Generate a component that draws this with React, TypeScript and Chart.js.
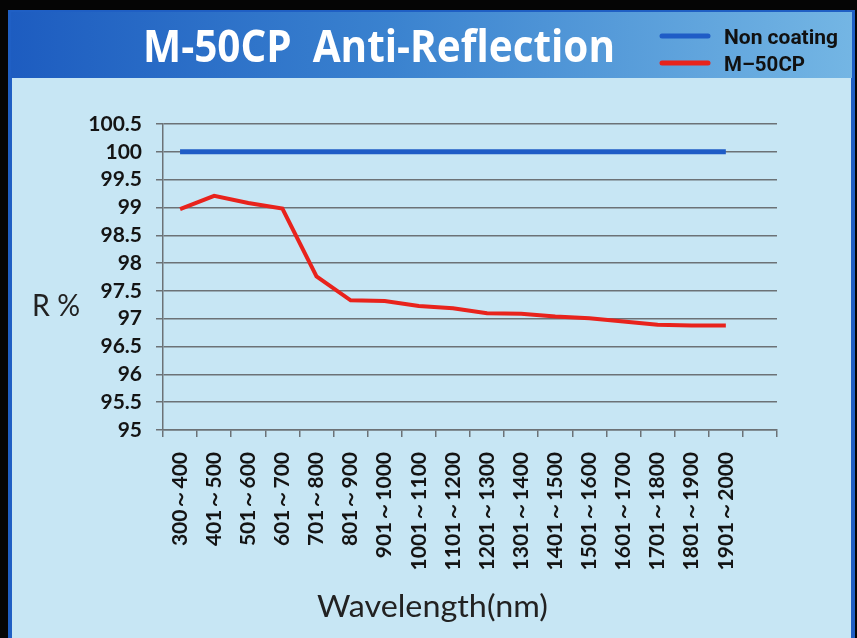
import { useEffect, useRef } from 'react';
import { Chart, registerables } from 'chart.js';

Chart.register(...registerables);

const chartTitle = 'M-50CP  Anti-Reflection';
const yTitle = 'R %';
const xTitle = 'Wavelength(nm)';
const seriesNames = ['Non coating', 'M–50CP'];

const categories = [
  '300～400', '401～500', '501～600', '601～700', '701～800', '801～900',
  '901～1000', '1001～1100', '1101～1200', '1201～1300', '1301～1400',
  '1401～1500', '1501～1600', '1601～1700', '1701～1800', '1801～1900',
  '1901～2000', '',
];

const nonCoating = [100, 100, 100, 100, 100, 100, 100, 100, 100, 100, 100, 100, 100, 100, 100, 100, 100];
const m50cp = [98.97, 99.21, 99.08, 98.98, 97.76, 97.33, 97.32, 97.23, 97.19, 97.1, 97.09, 97.04, 97.01, 96.95, 96.89, 96.88, 96.88];

const yMin = 95;
const yMax = 100.5;
const yStep = 0.5;

const W = 857;
const H = 638;

function fitText(
  ctx: CanvasRenderingContext2D,
  text: string,
  x: number,
  baseline: number,
  width: number,
  font: string,
  color: string,
) {
  ctx.save();
  ctx.font = font;
  ctx.fillStyle = color;
  ctx.textAlign = 'left';
  ctx.textBaseline = 'alphabetic';
  const w = ctx.measureText(text).width;
  const s = width / w;
  ctx.translate(x, baseline);
  ctx.scale(s, 1);
  ctx.fillText(text, 0, 0);
  ctx.restore();
}

const decorPlugin = {
  id: 'decor',
  beforeDraw(chart: any) {
    const ctx = chart.ctx as CanvasRenderingContext2D;
    ctx.save();
    ctx.fillStyle = '#050505';
    ctx.fillRect(0, 0, W, H);
    ctx.fillStyle = '#1f5fc4';
    ctx.fillRect(8, 10, 847, H - 10);
    const g = ctx.createLinearGradient(8, 0, 855, 0);
    g.addColorStop(0, '#1d5cc0');
    g.addColorStop(0.45, '#3a82cf');
    g.addColorStop(1, '#74b6e4');
    ctx.fillStyle = g;
    ctx.fillRect(11, 12, 841, 66);
    ctx.fillStyle = '#c7e6f4';
    ctx.fillRect(12, 78, 839, H - 78);
    ctx.restore();
  },
  afterDraw(chart: any) {
    const ctx = chart.ctx as CanvasRenderingContext2D;
    fitText(ctx, chartTitle, 143, 62, 472, "bold 44px 'Open Sans'", '#ffffff');
    const ds = chart.data.datasets;
    const rows = [36, 63];
    ds.forEach((d: any, i: number) => {
      ctx.save();
      ctx.strokeStyle = d.borderColor;
      ctx.lineWidth = 5;
      ctx.lineCap = 'round';
      ctx.beginPath();
      ctx.moveTo(662, rows[i]);
      ctx.lineTo(708, rows[i]);
      ctx.stroke();
      ctx.restore();
    });
    fitText(ctx, ds[0].label, 724, rows[0] + 8, 114, "bold 20px 'Liberation Sans Narrow', 'Roboto'", '#111111');
    fitText(ctx, ds[1].label, 724, rows[1] + 8, 81, "bold 20px 'Liberation Sans Narrow', 'Roboto'", '#111111');
    fitText(ctx, yTitle, 32, 316, 48, "30px Lato", '#222222');
    fitText(ctx, xTitle, 317, 617, 231, "30px Lato", '#222222');
  },
};

export default function App() {
  const ref = useRef<HTMLCanvasElement>(null);
  useEffect(() => {
    const gridColor = '#6c7276';
    const chart = new Chart(ref.current!, {
      type: 'line',
      data: {
        labels: categories,
        datasets: [
          {
            label: seriesNames[0],
            data: nonCoating,
            borderColor: '#1f5cc6',
            backgroundColor: '#1f5cc6',
            borderWidth: 5,
            pointRadius: 0,
            tension: 0,
          },
          {
            label: seriesNames[1],
            data: m50cp,
            borderColor: '#e8231c',
            backgroundColor: '#e8231c',
            borderWidth: 4,
            pointRadius: 0,
            tension: 0,
          },
        ],
      },
      options: {
        responsive: false,
        animation: false,
        devicePixelRatio: 1,
        layout: { padding: { left: 0, top: 124, right: W - 777, bottom: 0 } },
        plugins: {
          legend: { display: false },
          title: { display: false },
          tooltip: { enabled: false },
        },
        scales: {
          x: {
            type: 'category',
            offset: true,
            afterFit: (s: any) => { s.height = H - 430; },
            grid: {
              offset: true,
              drawOnChartArea: false,
              drawTicks: true,
              tickLength: 7,
              color: gridColor,
              lineWidth: 1.5,
            },
            border: { color: gridColor, width: 1.5 },
            ticks: {
              autoSkip: false,
              minRotation: 90,
              maxRotation: 90,
              padding: 15,
              color: '#141414',
              font: { family: 'Lato', size: 21, weight: 'bold' },
            },
          },
          y: {
            min: yMin,
            max: yMax,
            afterFit: (s: any) => { s.width = 163; },
            grid: {
              tickLength: 7,
              color: gridColor,
              lineWidth: 1.5,
            },
            border: { color: gridColor, width: 1.5 },
            ticks: {
              stepSize: yStep,
              autoSkip: false,
              padding: 14,
              color: '#141414',
              font: { family: 'Lato', size: 21, weight: 'bold' },
              callback: (v: any) => String(v),
            },
          },
        },
      },
      plugins: [decorPlugin],
    });
    return () => chart.destroy();
  }, []);
  return (
    <div style={{ position: 'fixed', left: 0, top: 0, width: W, height: H }}>
      <canvas ref={ref} width={W} height={H} style={{ display: 'block' }} />
    </div>
  );
}
